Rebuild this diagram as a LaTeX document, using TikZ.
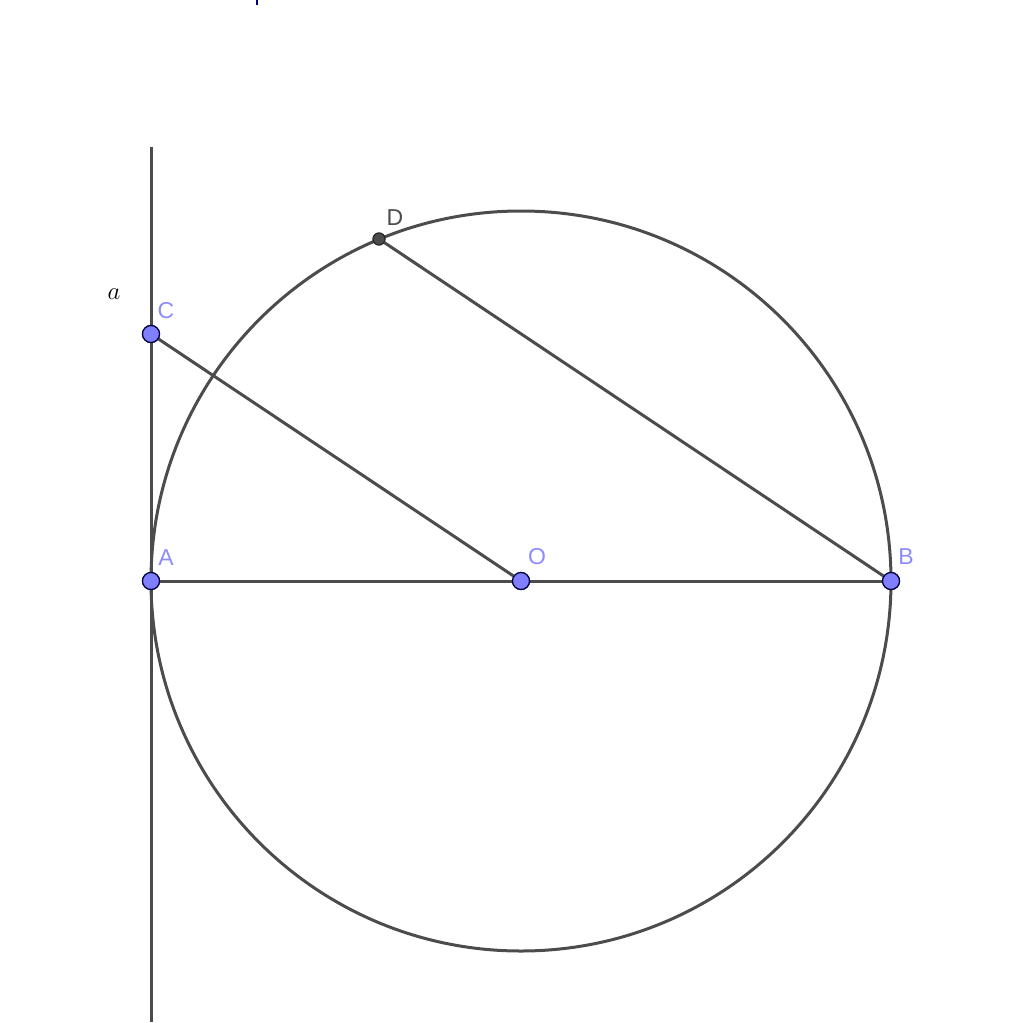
\documentclass[tikz,border=0pt]{standalone}
\usepackage{fontspec}
\newfontfamily\lblfont{Liberation Sans}
\begin{document}
\begin{tikzpicture}[x=1pt,y=-1pt,
  geo/.style={draw=black!70,line width=3pt},
  freept/.style={circle,fill=blue!50!white,draw=blue!25!black,line width=1.2pt,minimum size=17pt,inner sep=0pt},
  deppt/.style={circle,fill=black!70,draw=black!85,line width=1pt,minimum size=12pt,inner sep=0pt},
  lbl/.style={font=\lblfont\fontsize{23}{23}\selectfont,text=blue!45!white,inner sep=0pt},
  dlbl/.style={font=\lblfont\fontsize{23}{23}\selectfont,text=black!70,inner sep=0pt}]
\useasboundingbox (0,0) rectangle (1024,1022);
\coordinate (O) at (521,581);
\coordinate (Atop) at (151,147);
\coordinate (Abot) at (151,1022);
\coordinate (Tk1) at (257,0);
\coordinate (Tk2) at (257,5);
\draw[blue!50!black,line width=2pt] (Tk1) -- (Tk2);
\draw[geo] (O) circle (370);
\draw[geo] (Atop) -- (Abot);
\node[freept] (A) at (151,581) {};
\node[freept] (B) at (891,581) {};
\node[freept] (C) at (151,334) {};
\node[deppt] (D) at (379,239) {};
\node[freept] (Op) at (O) {};
\draw[geo] (A) -- (Op) -- (B);
\draw[geo] (C) -- (Op);
\draw[geo] (D) -- (B);
\node[freept] at (A) {};
\node[freept] at (B) {};
\node[freept] at (C) {};
\node[freept] at (O) {};
\node[deppt] at (D) {};
\node[lbl] (lA) at (166,558) {A};
\node[lbl] (lB) at (906,557) {B};
\node[lbl] (lC) at (166,311) {C};
\node[lbl] (lO) at (537,557) {O};
\node[dlbl] (lD) at (395,218) {D};
\node[font=\fontsize{30}{30}\selectfont,inner sep=0pt] (la) at (114,294) {$a$};
\end{tikzpicture}
\end{document}
